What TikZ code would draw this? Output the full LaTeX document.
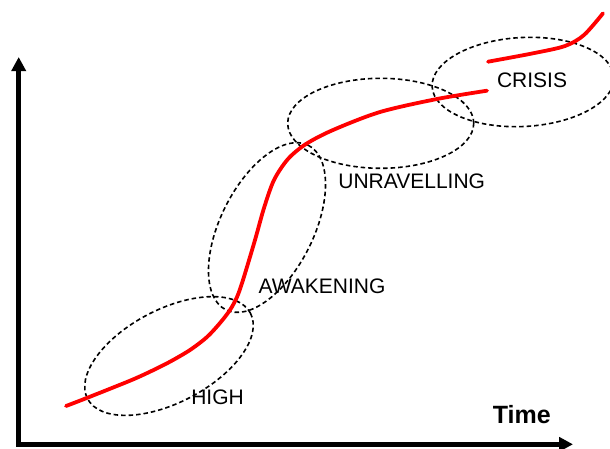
\documentclass[tikz,border=0pt]{standalone}
\usepackage{fontspec}
\setmainfont{Liberation Sans}
\usetikzlibrary{shapes.geometric,arrows.meta}
\tikzset{
  phase/.style={draw=black, ellipse, dash pattern=on 4.5pt off 3pt, line width=1.6pt, inner sep=0pt, minimum width=184pt, minimum height=93pt},
  lbl/.style={font=\fontsize{21}{25}\selectfont, inner sep=0pt},
  axis/.style={line width=4.5pt, line join=miter, {Triangle[length=14pt,width=14pt]}-{Triangle[length=14pt,width=14pt]}},
  trend/.style={red, line width=3.8pt, line cap=round}
}
\begin{document}
\begin{tikzpicture}[x=1pt,y=-1pt]
\useasboundingbox (0,0) rectangle (610,448);
\begin{scope}
\clip (0,0) rectangle (610,448);
% axes
\coordinate (Ytop) at (18.7,57);
\coordinate (O) at (18.7,444.3);
\coordinate (Xend) at (573,444.3);
\draw[axis] (Ytop) -- (O) -- (Xend);
% ellipses
\node[phase, rotate=27.7] (eHigh) at (169,356) {};
\node[phase, rotate=63.4] (eAwake) at (267,227.5) {};
\node[phase, minimum width=186pt, minimum height=90pt] (eUnrav) at (380.7,123.3) {};
\node[phase, rotate=3, minimum width=182pt, minimum height=89pt] (eCrisis) at (523,82) {};
% trend curves
\draw[trend] plot[smooth] coordinates {(66,406) (88,397.5) (130,380.7) (150,371.7) (170,361.7) (190,350) (207,337) (220,323) (230,310) (237,297) (243,280) (255,240) (264,208) (274,180) (288,159) (306,144) (333,130) (380,112) (437,99) (487,90.7)};
\draw[trend] plot[smooth] coordinates {(488,61.7) (533,53.3) (565,46) (584,35) (603,13.3)};
\end{scope}
% labels
\node[lbl] (tHigh) at (217.5,397) {HIGH};
\node[lbl] (tAwake) at (322,286) {AWAKENING};
\node[lbl] (tUnrav) at (411.7,181) {UNRAVELLING};
\node[lbl] (tCrisis) at (532,80.5) {CRISIS};
\node[font=\fontsize{25}{30}\selectfont\bfseries, inner sep=0pt] (tTime) at (521.7,414.5) {Time};
\end{tikzpicture}
\end{document}
